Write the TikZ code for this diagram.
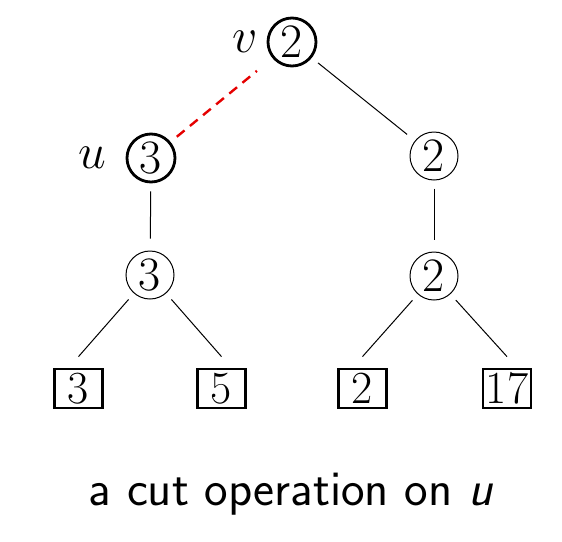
\documentclass[tikz,border=0pt]{standalone}
\usetikzlibrary{positioning}
\begin{document}
\begin{tikzpicture}[x=0.5pt,y=-0.5pt,
heapnode/.style={circle,draw,line width=0.5pt,minimum size=24pt,inner sep=0pt,font=\fontsize{24}{28}\selectfont},
marked/.style={heapnode,line width=1.4pt},
leafbox/.style={rectangle,draw,line width=1.4pt,minimum width=24pt,minimum height=19.5pt,inner sep=0pt,font=\fontsize{23}{27}\selectfont},
treeedge/.style={line width=0.5pt,shorten <=4pt,shorten >=5pt},
cutedge/.style={red!90!black,line width=1.2pt,dash pattern=on 5pt off 3.5pt,shorten <=4pt,shorten >=10pt},
lbl/.style={font=\fontsize{25}{30}\selectfont}]
\useasboundingbox (0,0) rectangle (562,541);
\node[marked] (v) at (292,42) {2};
\node[marked] (u) at (151,158) {3};
\node[heapnode] (r) at (434,156) {2};
\node[heapnode] (a) at (150,275) {3};
\node[heapnode] (b) at (434,276) {2};
\node[leafbox] (l1) at (78.5,388.5) {3};
\node[leafbox] (l2) at (221.5,388.5) {5};
\node[leafbox] (l3) at (362.5,388.5) {2};
\node[leafbox] (l4) at (507,388.5) {17};
\node[lbl,left=1pt of v] (vlab) {$v$};
\node[lbl,left=6pt of u] (ulab) {$u$};

\draw[cutedge] (u) -- (v);
\draw[treeedge] (v) -- (r);
\draw[treeedge,shorten >=6pt] (u) -- (a);
\draw[treeedge,shorten >=6pt] (r) -- (b);
\draw[treeedge,shorten >=0pt] (a) -- ([yshift=5.5pt]l1.north);
\draw[treeedge,shorten >=0pt] (a) -- ([yshift=5.5pt]l2.north);
\draw[treeedge,shorten >=0pt] (b) -- ([yshift=5.5pt]l3.north);
\draw[treeedge,shorten >=0pt] (b) -- ([yshift=5.5pt]l4.north);

\node[font=\fontsize{25}{30}\selectfont\sffamily,anchor=base] (caption) at (291,505) {a cut operation on \textit{u}};
\end{tikzpicture}
\end{document}
